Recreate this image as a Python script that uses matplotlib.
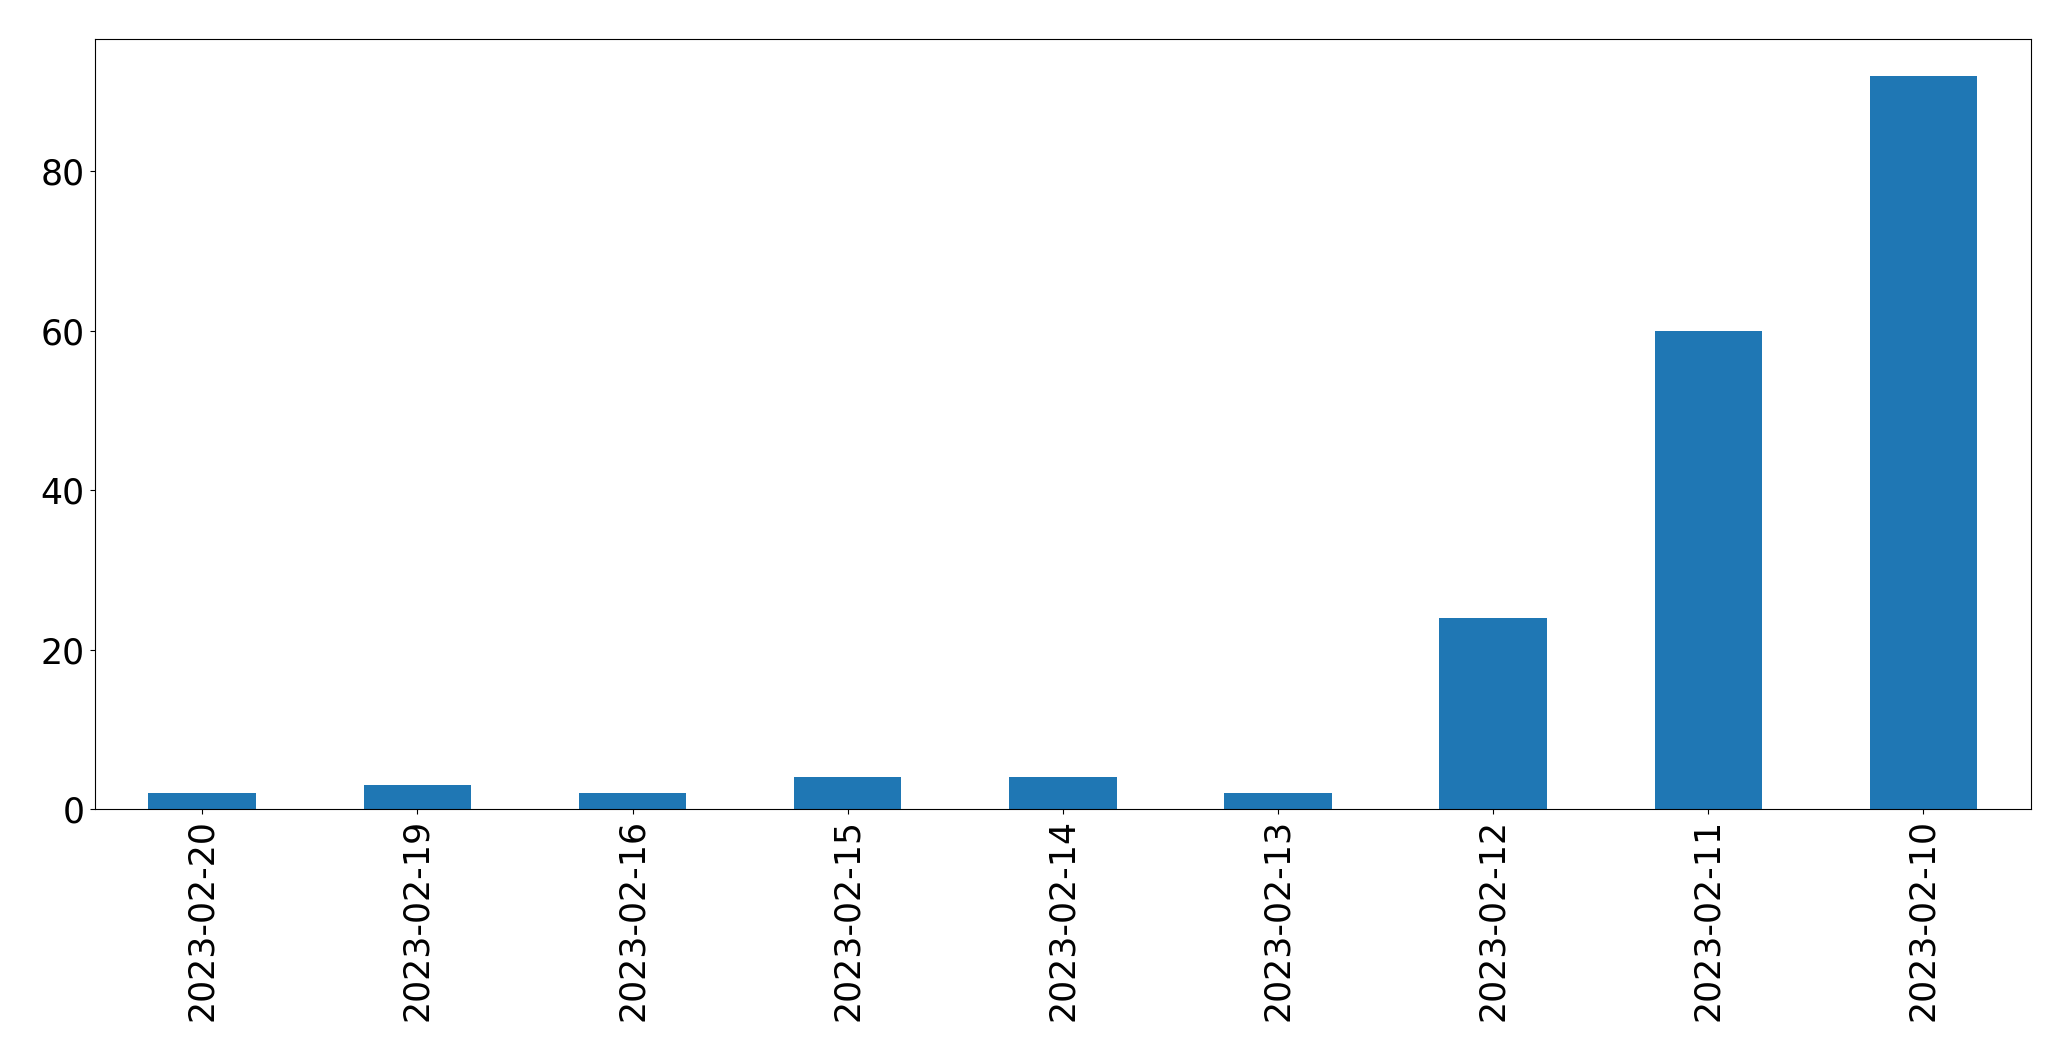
import matplotlib
matplotlib.use("Agg")
import matplotlib.pyplot as plt

# dates and counts
dates = ["2023-02-20", "2023-02-19", "2023-02-16", "2023-02-15", "2023-02-14",
         "2023-02-13", "2023-02-12", "2023-02-11", "2023-02-10"]
counts = [2, 3, 2, 4, 4, 2, 24, 60, 92]

fig = plt.figure(figsize=(20.71, 10.61), dpi=100)
ax = fig.add_axes([0.0457, 0.2375, 0.9350, 0.7257])

x = range(len(dates))
ax.bar(x, counts, width=0.5, color="#1f77b4")
ax.set_xlim(-0.5, len(dates) - 0.5)
ax.set_ylim(0, max(counts) * 1.05)
ax.set_xticks(list(x))
ax.set_xticklabels(dates, rotation=90)
ax.tick_params(labelsize=25)

fig.savefig("out.png", dpi=100)
